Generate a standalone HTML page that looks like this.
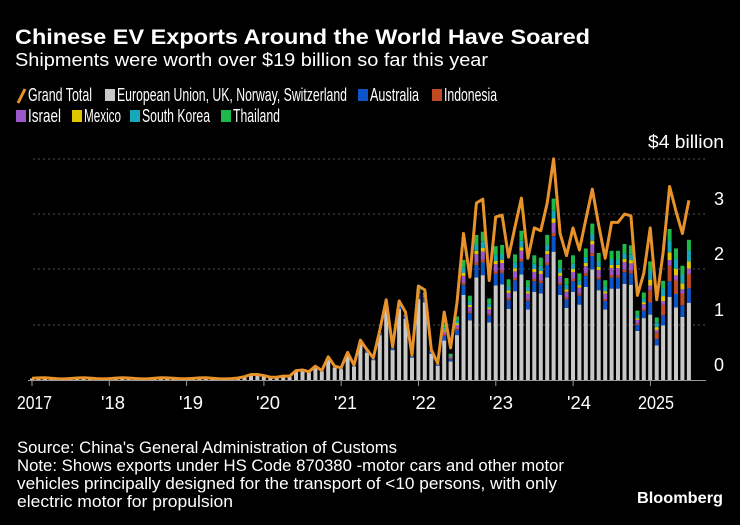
<!DOCTYPE html>
<html><head><meta charset="utf-8"><style>
html,body{margin:0;padding:0;background:#000;}
svg{display:block;}
text{font-family:"Liberation Sans Narrow","Liberation Sans",sans-serif;fill:#fff;}
</style></head><body>
<svg id="s" width="740" height="525" viewBox="0 0 740 525" xmlns="http://www.w3.org/2000/svg">
<rect width="740" height="525" fill="#000"/>
<text x="15" y="44" font-size="21" font-weight="bold" textLength="575" lengthAdjust="spacingAndGlyphs" style="font-family:'Liberation Sans',sans-serif">Chinese EV Exports Around the World Have Soared</text>
<text x="15" y="66" font-size="18" textLength="473" lengthAdjust="spacingAndGlyphs">Shipments were worth over $19 billion so far this year</text>
<g font-size="18">
<line x1="18" y1="103" x2="25" y2="89" stroke="#e8922b" stroke-width="3"/>
<text x="28" y="101" textLength="64" lengthAdjust="spacingAndGlyphs">Grand Total</text>
<rect x="105" y="89" width="10" height="12" fill="#c8c8c8"/>
<text x="117" y="101" textLength="230" lengthAdjust="spacingAndGlyphs">European Union, UK, Norway, Switzerland</text>
<rect x="358" y="89" width="10" height="12" fill="#0b55c8"/>
<text x="370" y="101" textLength="49" lengthAdjust="spacingAndGlyphs">Australia</text>
<rect x="432" y="89" width="10" height="12" fill="#c14a22"/>
<text x="444" y="101" textLength="53" lengthAdjust="spacingAndGlyphs">Indonesia</text>
<rect x="16" y="110" width="10" height="12" fill="#9b57c8"/>
<text x="28" y="122" textLength="33" lengthAdjust="spacingAndGlyphs">Israel</text>
<rect x="72" y="110" width="10" height="12" fill="#e0c400"/>
<text x="84" y="122" textLength="37" lengthAdjust="spacingAndGlyphs">Mexico</text>
<rect x="130" y="110" width="10" height="12" fill="#14a8b8"/>
<text x="142" y="122" textLength="68" lengthAdjust="spacingAndGlyphs">South Korea</text>
<rect x="221" y="110" width="10" height="12" fill="#1fb84a"/>
<text x="233" y="122" textLength="47" lengthAdjust="spacingAndGlyphs">Thailand</text>
</g>
<text x="648" y="148" font-size="18" textLength="76" lengthAdjust="spacingAndGlyphs">$4 billion</text>
<g stroke="#555" stroke-width="1" stroke-dasharray="2,3">
<line x1="33" y1="159" x2="706" y2="159"/>
<line x1="33" y1="214" x2="706" y2="214"/>
<line x1="33" y1="269" x2="706" y2="269"/>
<line x1="33" y1="325" x2="706" y2="325"/>
</g>
<g font-size="18" text-anchor="middle">
<text x="719" y="205">3</text><text x="719" y="260">2</text><text x="719" y="316">1</text><text x="719" y="371">0</text>
</g>
<g id="bars"></g>
<polyline id="ln" fill="none" stroke="#e8922b" stroke-width="3" stroke-linejoin="round"/>
<line x1="28" y1="380.5" x2="706" y2="380.5" stroke="#999" stroke-width="1"/>
<g id="ticks" stroke="#999"></g>
<g font-size="18">
<text x="17" y="409" textLength="35" lengthAdjust="spacingAndGlyphs">2017</text>
<text x="101" y="409" textLength="24" lengthAdjust="spacingAndGlyphs">'18</text>
<text x="179" y="409" textLength="24" lengthAdjust="spacingAndGlyphs">'19</text>
<text x="256" y="409" textLength="24" lengthAdjust="spacingAndGlyphs">'20</text>
<text x="334" y="409" textLength="23" lengthAdjust="spacingAndGlyphs">'21</text>
<text x="412" y="409" textLength="24" lengthAdjust="spacingAndGlyphs">'22</text>
<text x="489" y="409" textLength="24" lengthAdjust="spacingAndGlyphs">'23</text>
<text x="567" y="409" textLength="24" lengthAdjust="spacingAndGlyphs">'24</text>
<text x="638" y="409" textLength="36" lengthAdjust="spacingAndGlyphs">2025</text>
</g>
<g font-size="17" style="fill:#ddd">
<text x="17" y="453" textLength="380" lengthAdjust="spacingAndGlyphs">Source: China's General Administration of Customs</text>
<text x="17" y="471" textLength="547" lengthAdjust="spacingAndGlyphs">Note: Shows exports under HS Code 870380 -motor cars and other motor</text>
<text x="17" y="489" textLength="540" lengthAdjust="spacingAndGlyphs">vehicles principally designed for the transport of &lt;10 persons, with only</text>
<text x="17" y="507" textLength="216" lengthAdjust="spacingAndGlyphs">electric motor for propulsion</text>
</g>
<text x="637" y="503" font-size="16" font-weight="bold" textLength="86" lengthAdjust="spacingAndGlyphs" style="font-family:'Liberation Sans',sans-serif">Bloomberg</text>
</svg>
<script>
var T=[];
for(var i=0;i<40;i++)T.push(0.03+0.01*Math.sin(i));
T[33]=0.06;T[34]=0.1;T[35]=0.1;T[36]=0.08;T[37]=0.05;T[38]=0.05;T[39]=0.07;
var mid={40:0.07,41:0.17,42:0.18,43:0.15,44:0.25,45:0.17,46:0.42,47:0.25,48:0.22,49:0.5,50:0.27,51:0.72,52:0.55,53:0.4,54:0.9,55:1.45,56:0.6,57:1.43,58:1.23,59:0.45,60:1.7,61:1.63,62:0.55,63:0.3};
for(var k in mid)T[+k]=mid[k];
var late=[1.23,.58,1.4,2.65,1.86,3.2,3.27,1.8,2.95,2.98,2.22,2.77,3.29,2.2,2.75,2.7,3.2,4.0,2.65,2.25,2.75,2.35,2.9,3.45,2.8,2.2,2.85,2.85,3.0,2.97,1.53,1.93,2.75,1.45,2.3,3.5,3.05,2.65,3.25];
for(var j=0;j<late.length;j++)T[64+j]=late[j];
function X(i){return 32+6.44*i;}
function Y(v){return 380-55.3*v;}
var pts=T.map(function(v,i){return X(i).toFixed(1)+','+Y(v).toFixed(1);}).join(' ');
document.getElementById('ln').setAttribute('points',pts);
var cols=['#c8c8c8','#0b55c8','#c14a22','#9b57c8','#e0c400','#14a8b8','#1fb84a'];
var NS='http://www.w3.org/2000/svg';
var bars=document.getElementById('bars');
for(var i=0;i<T.length;i++){
 var t=T[i],f;
 if(i<60)f=[0.9,0.04,0,0.01,0,0,0.01];
 else if(i<64)f=[0.86,0.06,0,0.02,0,0.01,0.02];
 else if(i<96)f=[0.58,0.07,0.015,0.045,0.02,0.035,0.055];
 else f=[0.43,0.08,0.08,0.03,0.04,0.06,0.06];
 var y=380;
 for(var c=0;c<7;c++){var hh=t*f[c]*55.3;if(hh<=0)continue;y-=hh;
  var r=document.createElementNS(NS,'rect');
  r.setAttribute('x',(X(i)-2).toFixed(1));r.setAttribute('y',y.toFixed(1));
  r.setAttribute('width','4');r.setAttribute('height',hh.toFixed(1));r.setAttribute('fill',cols[c]);
  bars.appendChild(r);}
}
var tg=document.getElementById('ticks');
for(var k2=0;k2<9;k2++){var x=(32+77.3*k2).toFixed(1);var l=document.createElementNS(NS,'line');
 l.setAttribute('x1',x);l.setAttribute('x2',x);l.setAttribute('y1','380');l.setAttribute('y2','386');tg.appendChild(l);}
</script>
</body></html>
